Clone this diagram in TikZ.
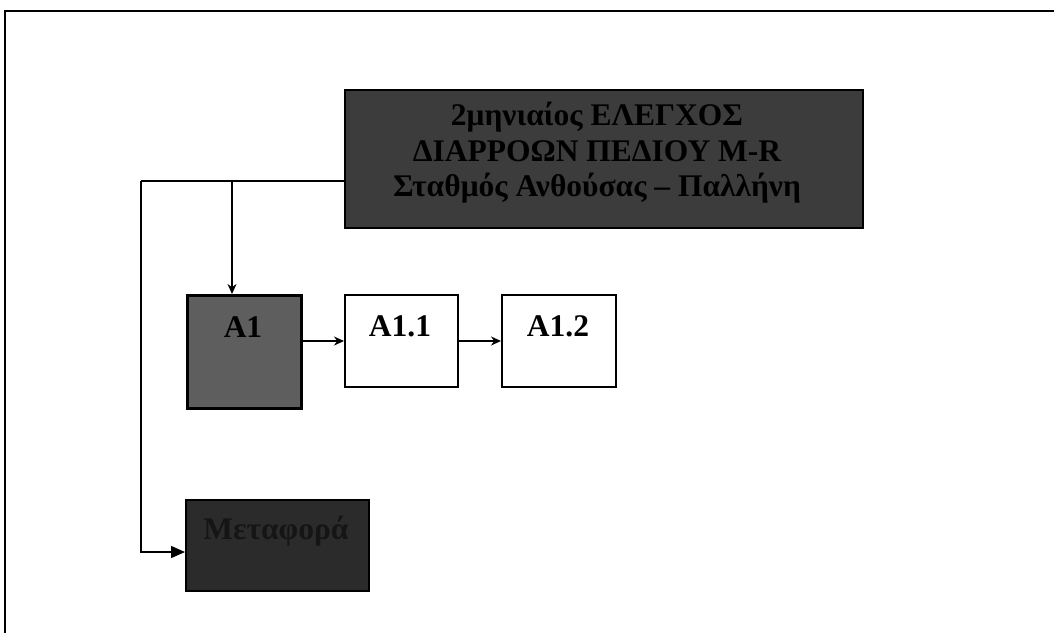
\documentclass[tikz,border=0pt]{standalone}
\usepackage{fontspec}
\setmainfont{Liberation Serif}
\usetikzlibrary{arrows.meta}
\definecolor{topfill}{HTML}{3C3C3C}
\definecolor{aonefill}{HTML}{5E5E5E}
\definecolor{metfill}{HTML}{2B2B2B}
\definecolor{mettext}{HTML}{151515}
\tikzset{
  box/.style={draw=black, line width=1.5pt, inner sep=0pt, anchor=north west},
  lbl/.style={font=\bfseries\fontsize{31.5}{35.5}\selectfont},
  conn/.style={line width=1.5pt, -{Stealth[length=10pt,width=9pt]}},
}
\begin{document}
\begin{tikzpicture}[x=1pt,y=-1pt]
\useasboundingbox (0,0) rectangle (1054,633);
\fill[white] (0,0) rectangle (1054,633);
% frame
\draw[line width=2pt] (5,633) -- (5,11) -- (1054,11);
% top box
\node[box, fill=topfill, minimum width=518pt, minimum height=138pt] (top) at (344,89) {};
\node[lbl, align=center] (toptext) at (597,153) {2μηνιαίος ΕΛΕΓΧΟΣ\\ΔΙΑΡΡΟΩΝ ΠΕΔΙΟΥ M-R\\Σταθμός Ανθούσας – Παλλήνη};
% A1
\node[box, fill=aonefill, line width=2.5pt, minimum width=114pt, minimum height=113pt] (a1) at (186,294) {};
\node[lbl] (a1t) at (243,327) {A1};
% A1.1
\node[box, fill=white, minimum width=113pt, minimum height=92pt] (a11) at (344,294) {};
\node[lbl] (a11t) at (400,326) {A1.1};
% A1.2
\node[box, fill=white, minimum width=114pt, minimum height=92pt] (a12) at (501,294) {};
\node[lbl] (a12t) at (558,326) {A1.2};
% Metafora
\node[box, fill=metfill, minimum width=183pt, minimum height=91pt] (met) at (185,499) {};
\node[lbl, text=mettext] (mett) at (276,531) {Μεταφορά};
% connectors
\coordinate (j) at (141,181);
\coordinate (k) at (232,181);
\draw[line width=1.5pt] (top.west |- 0,181) -- (j);
\draw[conn] (k) -- (k |- a1.north);
\draw[line width=1.5pt, -{Triangle[length=14pt,width=12pt]}] (j) -- (141,552) -- (met.west |- 0,552);
\draw[conn] (a1.east |- 0,341) -- (a11.west |- 0,341);
\draw[conn] (a11.east |- 0,341) -- (a12.west |- 0,341);
\end{tikzpicture}
\end{document}
